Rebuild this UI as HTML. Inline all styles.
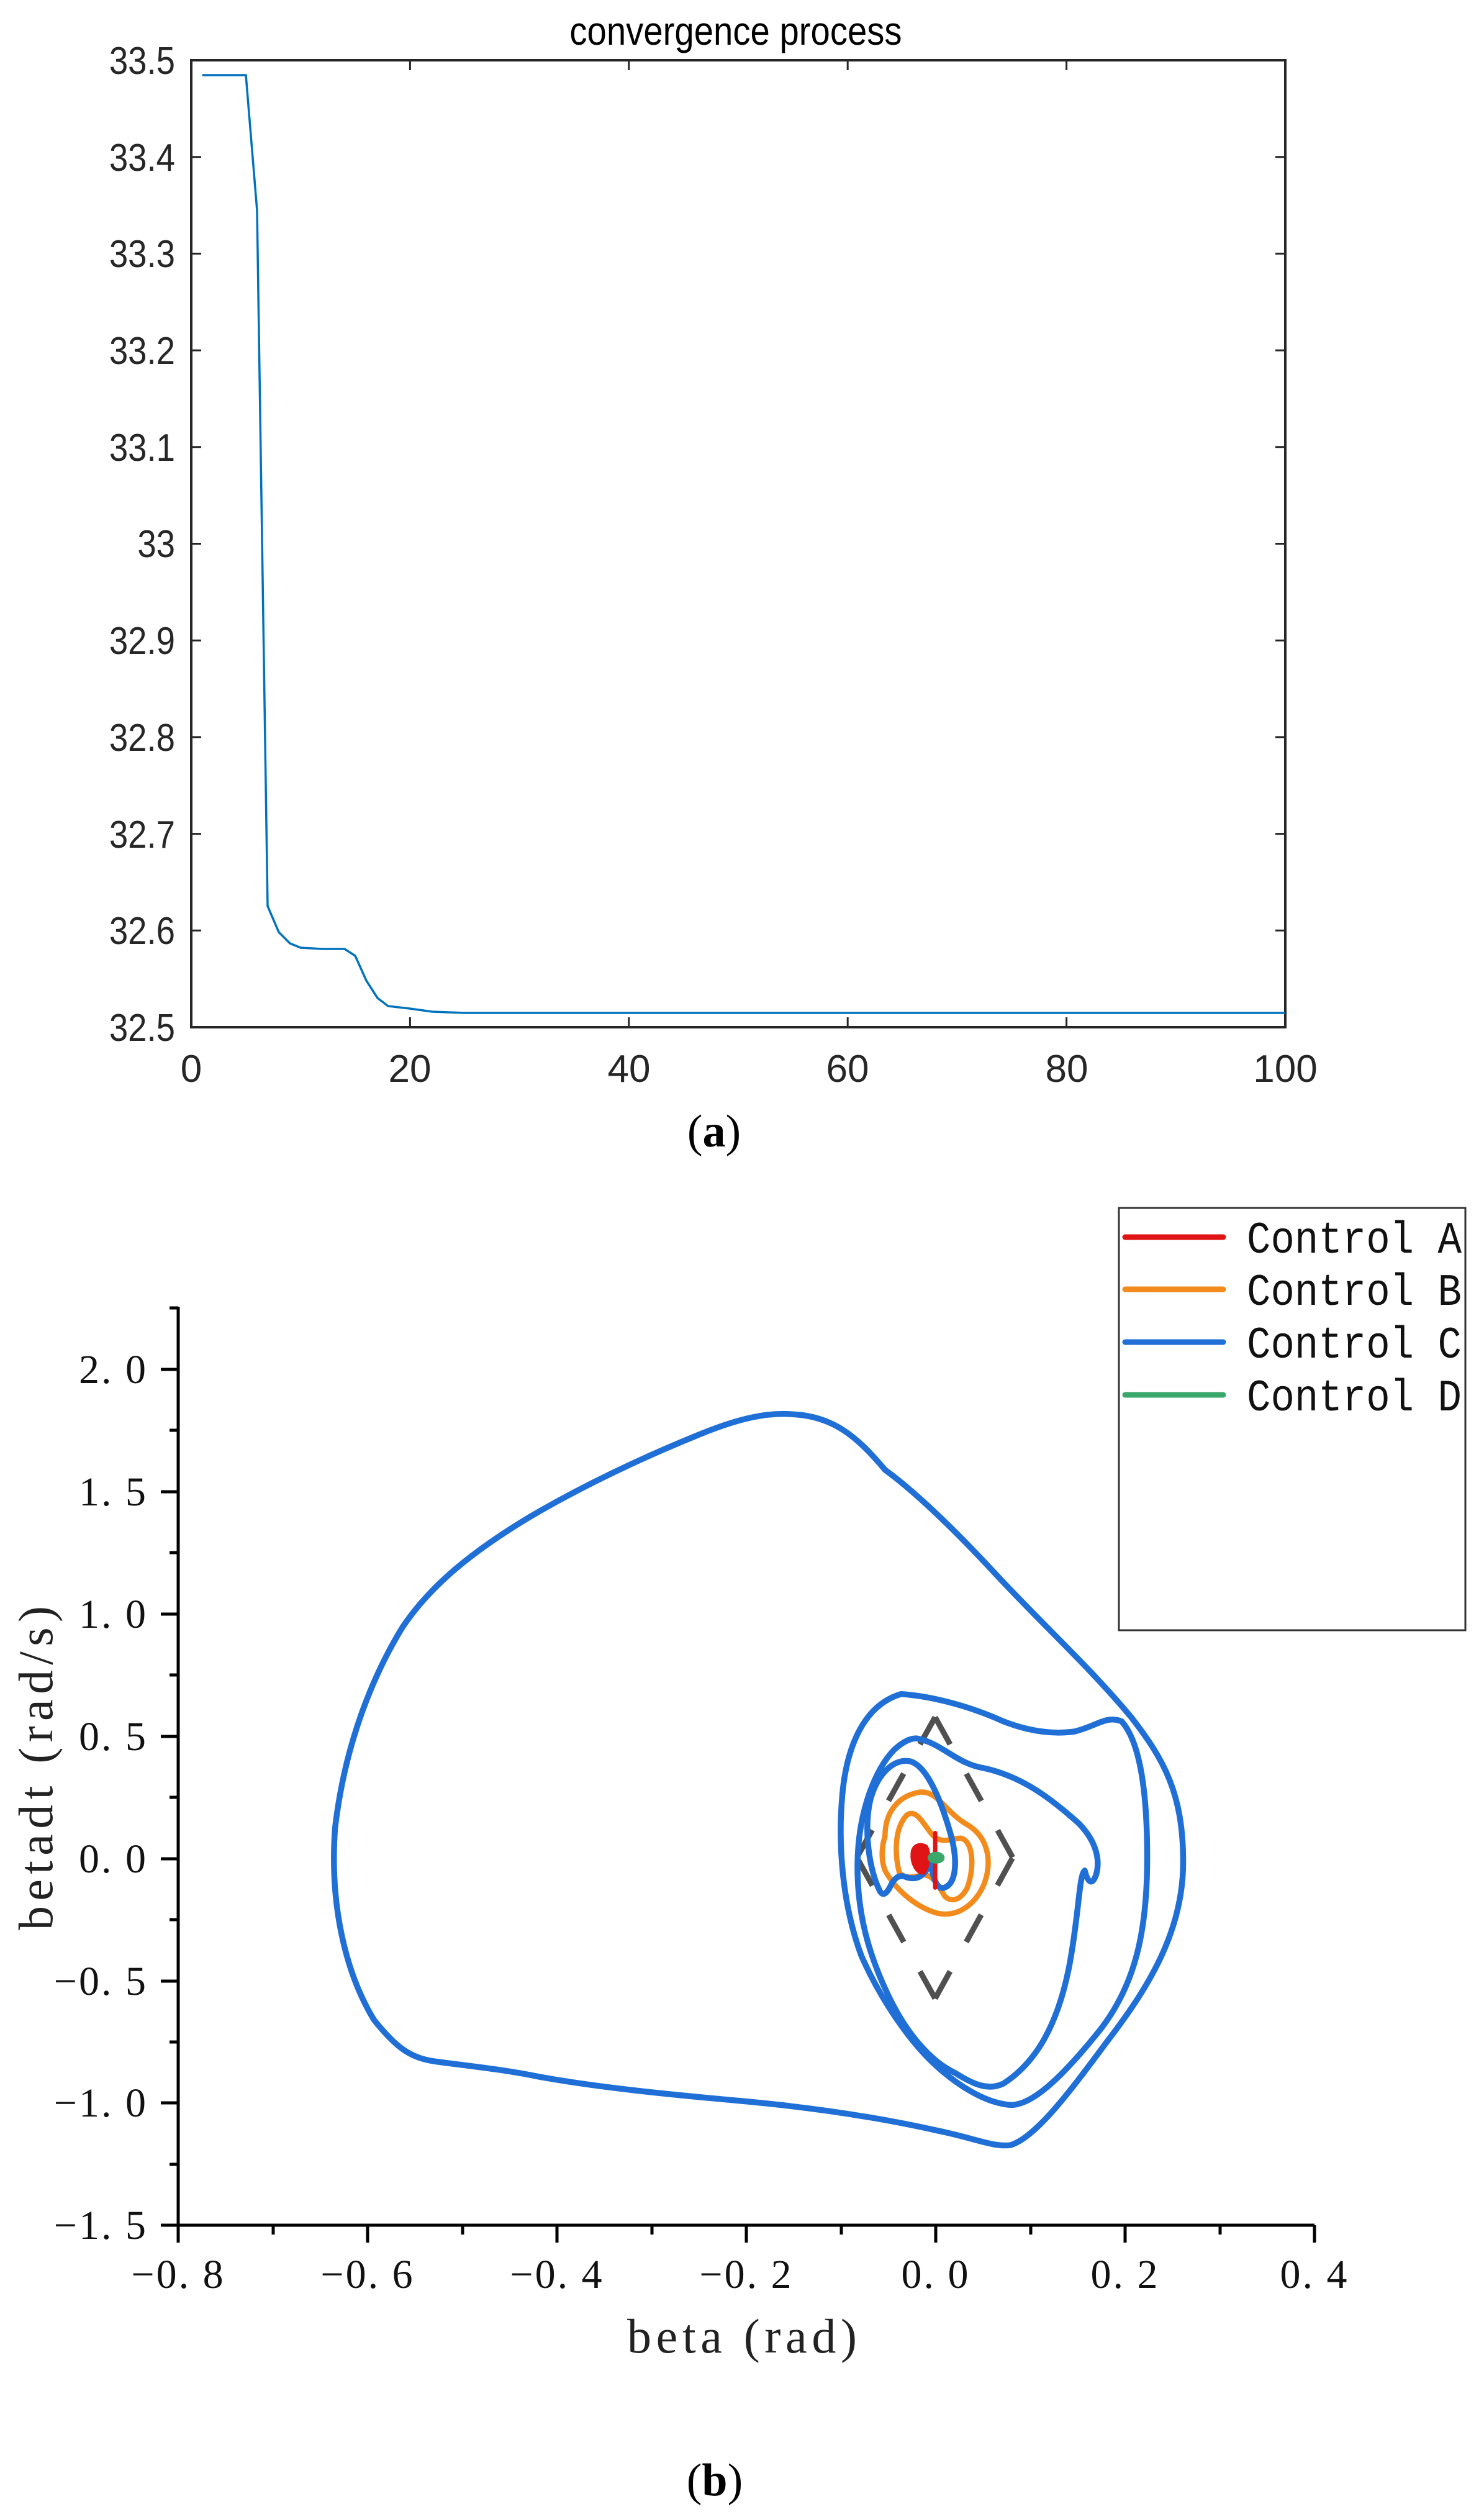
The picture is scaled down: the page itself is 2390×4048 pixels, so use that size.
<!DOCTYPE html>
<html><head><meta charset="utf-8"><style>
html,body{margin:0;padding:0;background:#fff;}
svg{display:block}
</style></head><body>
<svg width="2390" height="4048" viewBox="0 0 2390 4048" xmlns="http://www.w3.org/2000/svg">
<rect width="2390" height="4048" fill="#fff"/>
<text x="1185" y="72" font-family="Liberation Sans, Arial, sans-serif" font-size="64" text-anchor="middle" fill="#000" transform="translate(1185 0) scale(0.88 1) translate(-1185 0)">convergence process</text>
<rect x="308" y="97" width="1762" height="1557" fill="none" stroke="#262626" stroke-width="4"/>
<g stroke="#262626" stroke-width="3">
<path d="M308 252.7h16M308 408.4h16M308 564.1h16M308 719.8h16M308 875.5h16M308 1031.2h16M308 1186.9h16M308 1342.6h16M308 1498.3h16"/>
<path d="M2070 252.7h-16M2070 408.4h-16M2070 564.1h-16M2070 719.8h-16M2070 875.5h-16M2070 1031.2h-16M2070 1186.9h-16M2070 1342.6h-16M2070 1498.3h-16"/>
<path d="M660.4 1654v-16M1012.8 1654v-16M1365.2 1654v-16M1717.6 1654v-16"/>
<path d="M660.4 97v16M1012.8 97v16M1365.2 97v16M1717.6 97v16"/>
</g>
<g font-family="Liberation Sans, Arial, sans-serif" font-size="62" fill="#262626" text-anchor="end">
<g transform="translate(282 0) scale(0.88 1) translate(-282 0)">
<text x="282" y="119">33.5</text>
<text x="282" y="275">33.4</text>
<text x="282" y="430">33.3</text>
<text x="282" y="586">33.2</text>
<text x="282" y="742">33.1</text>
<text x="282" y="897">33</text>
<text x="282" y="1053">32.9</text>
<text x="282" y="1209">32.8</text>
<text x="282" y="1365">32.7</text>
<text x="282" y="1520">32.6</text>
<text x="282" y="1676">32.5</text>
</g>
</g>
<g font-family="Liberation Sans, Arial, sans-serif" font-size="62" fill="#262626" text-anchor="middle">
<text x="308" y="1742">0</text>
<text x="660" y="1742">20</text>
<text x="1013" y="1742">40</text>
<text x="1365" y="1742">60</text>
<text x="1718" y="1742">80</text>
<text x="2070" y="1742">100</text>
</g>
<polyline fill="none" stroke="#0072BD" stroke-width="3.5" points="325.6,121 396,121 414,339 431,1459 449,1501 467,1519 484,1526 520,1528 555,1528 572,1539 590,1579 608,1607 625,1620 660,1624 696,1629 749,1631 2070,1631"/>
<text x="1150" y="1846" font-family="Liberation Serif, serif" font-size="74" text-anchor="middle" fill="#000">(<tspan font-weight="bold">a</tspan>)</text>

<g stroke="#000" stroke-width="5" fill="none">
<path d="M287 2104V3583H2117"/>
<path d="M287 2205h-28M287 2402h-28M287 2599h-28M287 2796h-28M287 2993h-28M287 3190h-28M287 3386h-28M287 3583h-28"/>
<path d="M287 2303h-14M287 2500h-14M287 2697h-14M287 2894h-14M287 3091h-14M287 3288h-14M287 3485h-14M287 2106h-14"/>
<path d="M287 3583v28M592 3583v28M897 3583v28M1202 3583v28M1507 3583v28M1812 3583v28M2117 3583v28"/>
<path d="M440 3583v15M745 3583v15M1050 3583v15M1355 3583v15M1660 3583v15M1965 3583v15"/>
</g>
<g font-family="Liberation Serif, serif" font-size="66" fill="#111" text-anchor="end" letter-spacing="3">
<text x="238" y="2227">2. 0</text>
<text x="238" y="2424">1. 5</text>
<text x="238" y="2621">1. 0</text>
<text x="238" y="2818">0. 5</text>
<text x="238" y="3015">0. 0</text>
<text x="238" y="3212">−0. 5</text>
<text x="238" y="3408">−1. 0</text>
<text x="238" y="3605">−1. 5</text>
</g>
<g font-family="Liberation Serif, serif" font-size="66" fill="#111" text-anchor="middle" letter-spacing="3">
<text x="287" y="3684">−0. 8</text>
<text x="592" y="3684">−0. 6</text>
<text x="897" y="3684">−0. 4</text>
<text x="1202" y="3684">−0. 2</text>
<text x="1507" y="3684">0. 0</text>
<text x="1812" y="3684">0. 2</text>
<text x="2117" y="3684">0. 4</text>
</g>
<text x="1195" y="3788" font-family="Liberation Serif, serif" font-size="78" fill="#222" text-anchor="middle" textLength="370" lengthAdjust="spacing">beta (rad)</text>
<text transform="translate(84 2847) rotate(-90)" x="0" y="0" font-family="Liberation Serif, serif" font-size="78" fill="#222" text-anchor="middle" textLength="522" lengthAdjust="spacing">betadt (rad/s)</text>

<rect x="1802" y="1945" width="558" height="680" fill="none" stroke="#333" stroke-width="3"/>
<g stroke-width="9" stroke-linecap="round">
<line x1="1812" y1="1992" x2="1970" y2="1992" stroke="#e01414"/>
<line x1="1812" y1="2076" x2="1970" y2="2076" stroke="#f28a1c"/>
<line x1="1812" y1="2161" x2="1970" y2="2161" stroke="#1f6fd6"/>
<line x1="1812" y1="2246" x2="1970" y2="2246" stroke="#3aa86a"/>
</g>
<g font-family="Liberation Mono, monospace" font-size="72" fill="#111">
<text x="2008" y="2017" textLength="346" lengthAdjust="spacingAndGlyphs">Control A</text>
<text x="2008" y="2101" textLength="346" lengthAdjust="spacingAndGlyphs">Control B</text>
<text x="2008" y="2186" textLength="346" lengthAdjust="spacingAndGlyphs">Control C</text>
<text x="2008" y="2271" textLength="346" lengthAdjust="spacingAndGlyphs">Control D</text>
</g>

<g stroke="#505050" stroke-width="9" fill="none" stroke-dasharray="50 54" stroke-linecap="butt">
<path d="M1506 2765L1380 2991"/>
<path d="M1506 2765L1631 2991"/>
<path d="M1506 3218L1380 2991"/>
<path d="M1506 3218L1631 2991"/>
</g>

<g transform="matrix(1.5244 0 0 1.3727 0 1900)" fill="none" stroke-linejoin="round" stroke-linecap="round">
<g stroke="#f28a1c" stroke-width="8.5">
<path vector-effect="non-scaling-stroke" d="M935 770C935 740 950 722 972 718C990 716 998 740 1020 755C1045 770 1048 800 1040 825C1030 852 1010 865 990 860C965 852 945 830 935 810C930 795 932 780 935 770Z"/>
<path vector-effect="non-scaling-stroke" d="M950 812C945 790 945 760 958 745C968 737 975 755 985 768C995 780 1005 772 1015 772C1028 775 1030 805 1022 830C1015 845 1005 848 998 840C990 825 985 815 975 815C965 818 955 820 950 812Z"/>
</g>
<g stroke="#1f6fd6" stroke-width="9.5">
<path vector-effect="non-scaling-stroke" d="M840 275C810 272 780 280 740 298C680 325 620 356 560 395C500 435 455 475 425 525C392 585 364 665 354 760C348 850 365 930 395 985C420 1020 435 1030 460 1034C500 1040 530 1043 570 1052C630 1064 700 1072 780 1080C860 1088 930 1100 990 1115C1030 1124 1050 1135 1068 1132C1095 1122 1130 1070 1170 1010C1215 945 1250 880 1250 800C1250 720 1230 680 1195 630C1150 570 1100 520 1050 460C1000 400 960 360 935 340C905 300 880 278 840 275Z"/>
<path vector-effect="non-scaling-stroke" d="M952 603C980 605 1020 615 1060 635C1090 648 1115 650 1135 647C1160 640 1168 628 1185 635C1205 660 1212 720 1212 795C1212 880 1200 945 1160 1000C1120 1055 1090 1085 1068 1085C1040 1083 1010 1060 990 1040C960 1010 930 960 910 910C890 850 885 780 890 720C895 660 915 615 952 603Z"/>
<path vector-effect="non-scaling-stroke" d="M968 655C995 660 1010 685 1040 690C1080 700 1110 725 1140 755C1160 778 1162 800 1158 815C1155 825 1150 828 1146 810C1140 815 1140 860 1130 920C1118 990 1095 1035 1060 1060C1045 1068 1030 1062 1010 1048C985 1035 960 1005 940 960C918 910 905 860 906 800C907 740 925 690 945 668C955 658 962 655 968 655Z"/>
<path vector-effect="non-scaling-stroke" d="M930 835C918 810 912 760 920 725C928 695 945 678 962 682C980 688 995 730 1005 770C1012 800 1010 825 998 830C988 834 985 812 983 800C978 815 970 822 958 818C950 814 945 818 940 830C935 840 932 838 930 835Z"/>
</g>
<path d="M963 790C963 780 972 776 979 781C984 790 982 807 976 814C967 814 962 800 963 790Z" fill="#e01414" stroke="#e01414" stroke-width="3" vector-effect="non-scaling-stroke"/>
<path d="M988 766V830" stroke="#e01414" stroke-width="7" vector-effect="non-scaling-stroke"/>
<ellipse cx="989" cy="795" rx="9" ry="7" fill="#3aa86a"/>
</g>
<text x="1151" y="4018" font-family="Liberation Serif, serif" font-size="74" text-anchor="middle" fill="#000">(<tspan font-weight="bold">b</tspan>)</text>
</svg>
</body></html>
